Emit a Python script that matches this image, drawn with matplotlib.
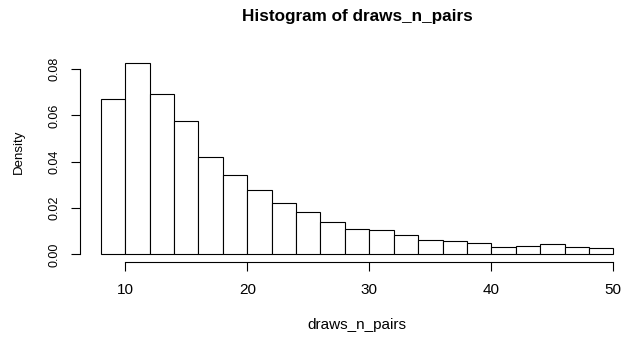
import matplotlib
matplotlib.use("Agg")
import matplotlib.pyplot as plt

# histogram bins (left edges) and densities
bin_left = [8, 10, 12, 14, 16, 18, 20, 22, 24, 26, 28,
            30, 32, 34, 36, 38, 40, 42, 44, 46, 48]
bin_width = 2
density = [0.0671, 0.0826, 0.0694, 0.0576, 0.0422, 0.0344, 0.0276,
           0.0223, 0.0181, 0.0141, 0.0111, 0.0107, 0.0084, 0.0060,
           0.0056, 0.0050, 0.0033, 0.0036, 0.0043, 0.0030, 0.0026]

x_ticks = [10, 20, 30, 40, 50]
y_ticks = [0.00, 0.02, 0.04, 0.06, 0.08]
y_tick_labels = ["0.00", "0.02", "0.04", "0.06", "0.08"]

plt.rcParams["font.family"] = ["Liberation Sans", "DejaVu Sans"]

W, H = 623, 338
fig = plt.figure(figsize=(W / 100, H / 100), dpi=100)

# plot region in pixels (R-style 4% padding around data range)
left_px, right_px = 80.4, 633.8
top_px, bottom_px = 55.3, 262.0
ax = fig.add_axes([left_px / W, 1 - bottom_px / H,
                   (right_px - left_px) / W, (bottom_px - top_px) / H])

ax.bar(bin_left, density, width=bin_width, align="edge",
       facecolor="white", edgecolor="black", linewidth=0.8)

x_lo, x_hi = bin_left[0], bin_left[-1] + bin_width
pad_x = 0.04 * (x_hi - x_lo)
ax.set_xlim(x_lo - pad_x, x_hi + pad_x)
ymax = max(density)
ax.set_ylim(-0.04 * ymax, ymax * 1.04)

for side in ["top", "right"]:
    ax.spines[side].set_visible(False)
for side in ["left", "bottom"]:
    ax.spines[side].set_linewidth(0.8)
ax.spines["left"].set_bounds(y_ticks[0], y_ticks[-1])
ax.spines["bottom"].set_bounds(x_ticks[0], x_ticks[-1])

ax.set_xticks(x_ticks)
ax.set_xticklabels([str(t) for t in x_ticks])
ax.set_yticks(y_ticks)
ax.set_yticklabels(y_tick_labels, rotation=90, va="center")

ax.tick_params(axis="both", length=6.5, width=0.8)
ax.tick_params(axis="x", pad=8.5, labelsize=11)
ax.tick_params(axis="y", pad=8, labelsize=9)

fig.text(357 / W, 1 - 16 / H, "Histogram of draws_n_pairs",
         ha="center", va="center", fontsize=12.3, fontweight="bold")
fig.text(357 / W, 1 - 325 / H, "draws_n_pairs",
         ha="center", va="center", fontsize=11)
fig.text(19 / W, 1 - 152 / H, "Density", rotation=90,
         ha="center", va="center", fontsize=9.5)

fig.savefig("out.png", dpi=100)
plt.close(fig)
